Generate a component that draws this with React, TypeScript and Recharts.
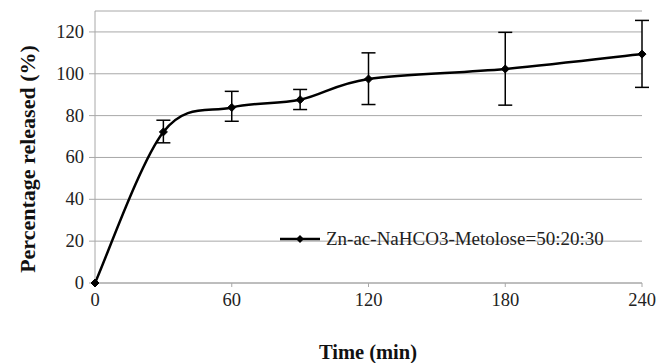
import React from "react";
import { LineChart, Line, XAxis, YAxis, CartesianGrid, ErrorBar, Legend } from "recharts";

const times = [0, 30, 60, 90, 120, 180, 240];
const released = [0, 72.2, 83.9, 87.6, 97.5, 102.3, 109.4];
const errLow = [0, 5.2, 6.6, 4.7, 12.2, 17.3, 15.9];
const errHigh = [0, 5.6, 7.7, 4.9, 12.5, 17.5, 16.1];
const xTicks = [0, 60, 120, 180, 240];
const yTicks = [0, 20, 40, 60, 80, 100, 120];
const seriesName = "Zn-ac-NaHCO3-Metolose=50:20:30";

const data = times.map((t, i) => ({
  t,
  v: released[i],
  err: errLow[i] === 0 && errHigh[i] === 0 ? null : [errLow[i], errHigh[i]],
}));

const FONT = "'Times New Roman', serif";

// Excel-like smoothed line (Catmull-Rom style Bezier segments)
const smoothCurve = (context: any) => {
  let pts: number[][] = [];
  return {
    areaStart() {},
    areaEnd() {},
    lineStart() {
      pts = [];
    },
    point(x: number, y: number) {
      pts.push([+x, +y]);
    },
    lineEnd() {
      const n = pts.length;
      if (n === 0) return;
      context.moveTo(pts[0][0], pts[0][1]);
      for (let i = 0; i < n - 1; i++) {
        const p0 = pts[i - 1] || pts[i];
        const p1 = pts[i];
        const p2 = pts[i + 1];
        const p3 = pts[i + 2] || pts[i + 1];
        context.bezierCurveTo(
          p1[0] + (p2[0] - p0[0]) / 6,
          p1[1] + (p2[1] - p0[1]) / 6,
          p2[0] - (p3[0] - p1[0]) / 6,
          p2[1] - (p3[1] - p1[1]) / 6,
          p2[0],
          p2[1]
        );
      }
    },
  };
};

const Diamond = (props: any) => {
  const { cx, cy } = props;
  if (cx == null || cy == null) return null;
  const r = 4;
  return (
    <polygon
      points={`${cx},${cy - r} ${cx + r},${cy} ${cx},${cy + r} ${cx - r},${cy}`}
      fill="#000"
      stroke="#000"
      strokeWidth={1}
    />
  );
};

const XTick = (props: any) => {
  const { x, y, payload } = props;
  return (
    <text x={x} y={y + 9} textAnchor="middle" dominantBaseline="central" fontFamily={FONT} fontSize={18.5} fill="#222">
      {payload.value}
    </text>
  );
};

const YTick = (props: any) => {
  const { x, y, payload } = props;
  return (
    <text x={x} y={y} textAnchor="end" dominantBaseline="central" fontFamily={FONT} fontSize={18.5} fill="#222">
      {payload.value}
    </text>
  );
};

const LegendContent = () => (
  <div style={{ display: "flex", alignItems: "center", fontFamily: FONT, fontSize: 19, color: "#222", whiteSpace: "nowrap" }}>
    <svg width={40} height={12} style={{ marginRight: 6 }}>
      <line x1={0} y1={6} x2={40} y2={6} stroke="#000" strokeWidth={2.5} />
      <polygon points="20,2 24,6 20,10 16,6" fill="#000" />
    </svg>
    <span>{seriesName}</span>
  </div>
);

export default function App() {
  return (
    <div style={{ position: "absolute", left: 0, top: 0, width: 670, height: 363, background: "#fff", fontFamily: FONT }}>
      <LineChart
        width={670}
        height={363}
        data={data}
        margin={{ top: 11, right: 28, bottom: 0, left: 0 }}
        style={{ fontFamily: FONT }}
      >
        <CartesianGrid vertical={false} stroke="#a8a8a8" strokeWidth={1} />
        <XAxis
          dataKey="t"
          type="number"
          domain={[0, 240]}
          ticks={xTicks}
          height={58}
          stroke="#a8a8a8"
          tickSize={4}
          tickMargin={4}
          tick={<XTick />}
          label={(p: any) => (
            <text x={368} y={352} textAnchor="middle" dominantBaseline="central" fontFamily={FONT} fontSize={20.5} fontWeight="bold" fill="#111">
              Time (min)
            </text>
          )}
        />
        <YAxis
          type="number"
          domain={[0, 130]}
          ticks={yTicks}
          width={95}
          stroke="#a8a8a8"
          tickSize={6}
          tickMargin={5}
          tick={<YTick />}
          label={(p: any) => (
            <text x={27} y={159} transform="rotate(-90 27 159)" textAnchor="middle" dominantBaseline="central" fontFamily={FONT} fontSize={22} fontWeight="bold" fill="#111">
              Percentage released (%)
            </text>
          )}
        />
        <Legend
          content={<LegendContent />}
          wrapperStyle={{ position: "absolute", left: 280, top: 228, width: "auto" }}
        />
        <Line
          type={smoothCurve as any}
          dataKey="v"
          name={seriesName}
          stroke="#000"
          strokeWidth={2.5}
          dot={<Diamond />}
          activeDot={false}
          isAnimationActive={false}
        >
          <ErrorBar dataKey="err" width={7} stroke="#000" strokeWidth={1.5} direction="y" />
        </Line>
      </LineChart>
    </div>
  );
}
